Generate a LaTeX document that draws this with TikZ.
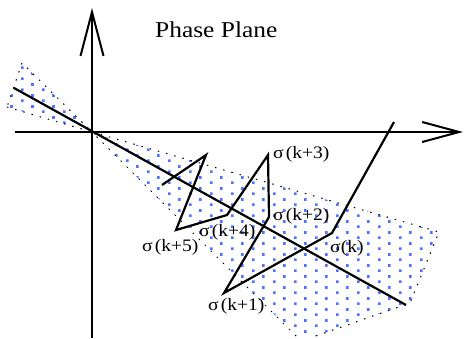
\documentclass[tikz,border=0pt]{standalone}
\usepackage{fontspec}
\setmainfont{Liberation Serif}[FakeStretch=1.12]
\usepackage{xcolor}
\usepackage{tikz}
\usetikzlibrary{arrows.meta,patterns}

\definecolor{dotblue}{RGB}{80,115,255}
\pgfdeclarepatternformonly{stagdots}{\pgfpointorigin}{\pgfpoint{21pt}{10.7pt}}{\pgfpoint{21pt}{10.7pt}}{
  \pgfpathrectangle{\pgfpoint{0pt}{0pt}}{\pgfpoint{2.8pt}{2.8pt}}
  \pgfpathrectangle{\pgfpoint{10.5pt}{5.35pt}}{\pgfpoint{2.8pt}{2.8pt}}
  \pgfusepath{fill}}

\begin{document}
\begin{tikzpicture}[
  x=1pt, y=-1pt,
  axis/.style ={line width=2pt},
  cone/.style ={pattern=stagdots, pattern color=dotblue},
  rim/.style  ={draw=black, line width=1pt, dash pattern=on 1.5pt off 7pt},
  traj/.style ={line width=2.2pt, line join=miter},
  lbl/.style  ={anchor=west, inner sep=0pt, font=\fontsize{17.5}{20}\selectfont},
  title/.style={anchor=base west, inner sep=0pt, font=\fontsize{22.7}{26}\selectfont}
]
\useasboundingbox (0,0) rectangle (465,338);

% sector of the plane
\fill[cone] (92,132) -- (439,232) -- (410,303) -- (310,338) -- (296,336) -- cycle;
\fill[cone] (92,132) -- (22,63) -- (7,107) -- cycle;
\draw[rim] (296,336) -- (92,132) -- (439,232) -- (410,303) -- (310,338);
\draw[rim] (7,107) -- (92,132) -- (22,63) -- (7,107);

% axes
\coordinate (yb) at (92,338);
\coordinate (yt) at (92,8);
\coordinate (xl) at (15,132);
\coordinate (xr) at (463,132);
\draw[axis, -{Straight Barb[length=44pt, width=23pt]}] (yb) -- (yt);
\draw[axis, -{Straight Barb[length=37pt, width=20pt]}] (xl) -- (xr);

% switching line
\coordinate (la) at (14,88);
\coordinate (lb) at (406,305);
\draw[traj] (la) -- (lb);

% trajectory
\coordinate (st) at (394,122);
\coordinate (s0) at (332,233);
\coordinate (s1) at (224,293);
\coordinate (s2) at (269,217);
\coordinate (s3) at (268,155);
\coordinate (s4) at (227,215);
\coordinate (s5) at (176,230);
\coordinate (s6) at (206,155);
\coordinate (s7) at (162,185);
\draw[traj] (st) -- (s0) -- (s1) -- (s2) -- (s3) -- (s4) -- (s5) -- (s6) -- (s7);

% labels
\node[title] (ttl) at (155,37) {Phase Plane};
\node[lbl] (l3) at (273,154) {σ\kern2pt(k+3)};
\node[lbl] (l2) at (273,216) {σ\kern2pt(k+2)};
\node[lbl] (l0) at (330,248) {σ(k)};
\node[lbl] (l5) at (142,247) {σ\kern2pt(k+5)};
\node[lbl] (l4) at (199,232) {σ\kern2pt(k+4)};
\node[lbl] (l1) at (208,306) {σ\kern2pt(k+1)};
\end{tikzpicture}
\end{document}
